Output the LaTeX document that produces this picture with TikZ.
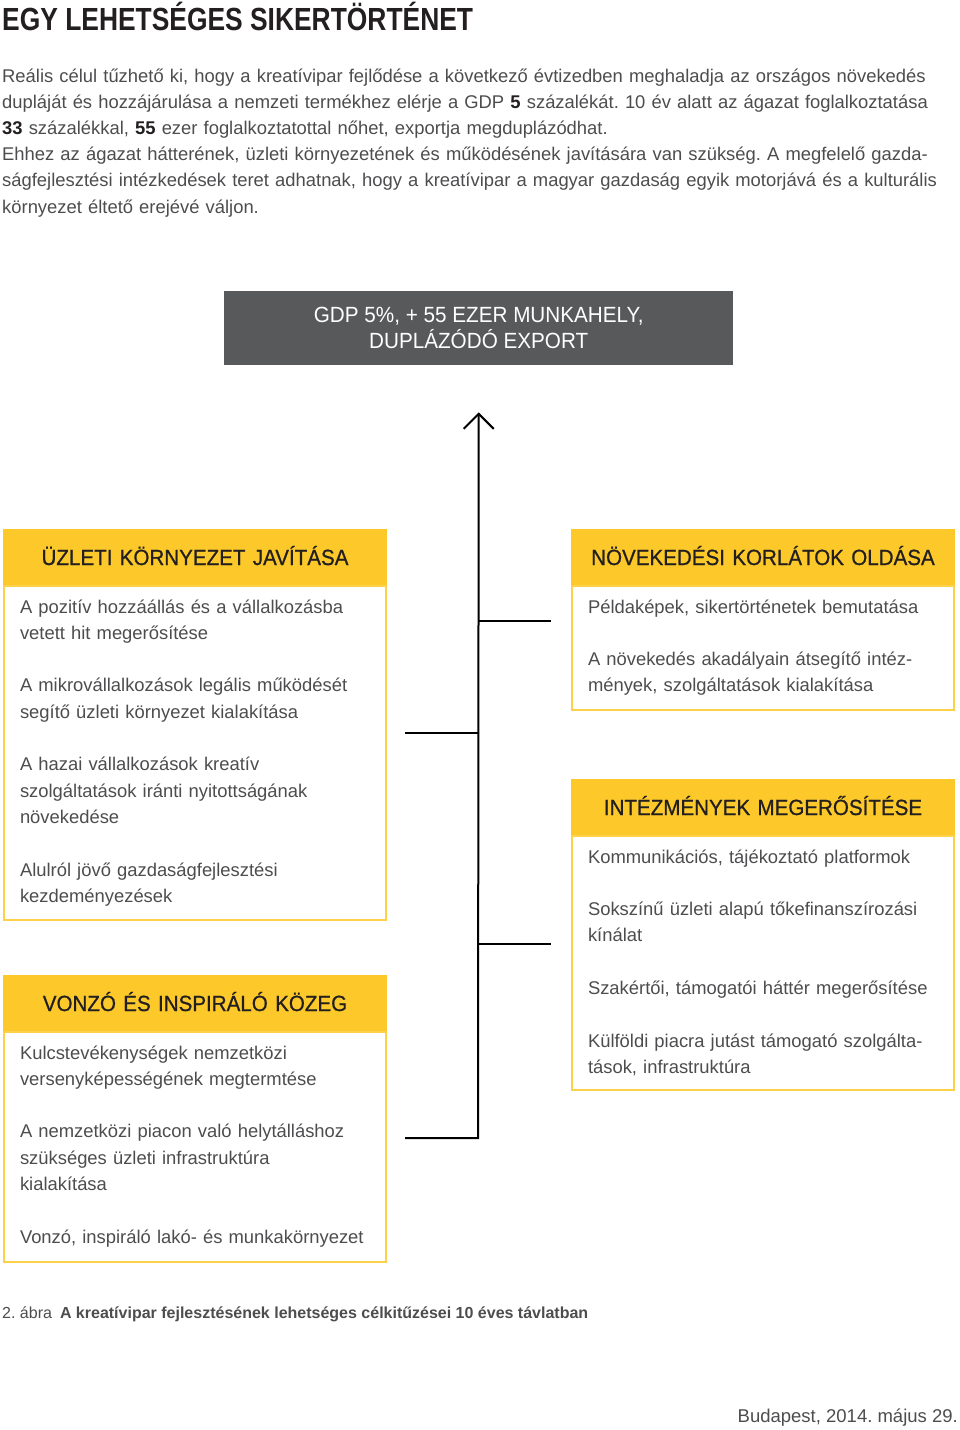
\documentclass[tikz,border=0pt]{standalone}
\usepackage{fontspec}
\setmainfont{Liberation Sans}
\newfontfamily\headfont[FakeStretch=0.935, FakeBold=0.8]{Liberation Sans}
\newfontfamily\goalfont[FakeStretch=0.94]{Liberation Sans}
\newfontfamily\titlefont[FakeStretch=0.825]{Liberation Sans}
\usepackage{xcolor}
\usetikzlibrary{arrows.meta, positioning}
\definecolor{sunyellow}{HTML}{FDC92A}
\definecolor{slategrey}{HTML}{58595B}
\definecolor{inkdark}{HTML}{231F20}
\definecolor{bodygrey}{HTML}{4D4D4F}
\frenchspacing

\begin{document}
\begin{tikzpicture}[x=1pt, y=-1pt,
  head/.style={rectangle, fill=sunyellow, draw=sunyellow, line width=2pt,
               minimum height=54pt, inner sep=0pt, text width=382pt, align=center,
               text height=16pt, text depth=0pt,
               text=inkdark, font=\headfont\fontsize{22}{26}\selectfont},
  body/.style={rectangle, fill=white, draw=sunyellow!85, line width=2pt,
               inner xsep=16pt, inner ysep=0pt, text width=350pt, align=left,
               text height=27pt, text=bodygrey, font=\fontsize{18.4}{26.3}\selectfont},
  goalbox/.style={rectangle, fill=slategrey, minimum width=509pt, minimum height=74pt,
                  inner sep=0pt, align=center, text=white,
                  font=\goalfont\fontsize{22}{26}\selectfont},
  arr/.style={-{Straight Barb[length=15pt, width=30pt]}, line width=2pt, black},
  branch/.style={line width=2pt, black}
]
\useasboundingbox[fill=white] (0,0) rectangle (960,1430);

% title and intro
\node[anchor=base west, inner sep=0pt, text=inkdark,
      font=\titlefont\bfseries\fontsize{32}{36}\selectfont] (title) at (2,30)
      {EGY LEHETSÉGES SIKERTÖRTÉNET};
\node[anchor=base west, inner sep=0pt, text width=950pt, align=left, text=bodygrey,
      font=\fontsize{18.4}{26.2}\selectfont] (intro) at (2,82)
      {Reális célul tűzhető ki, hogy a kreatívipar fejlődése a következő évtizedben meghaladja az országos növekedés\\
       dupláját és hozzájárulása a nemzeti termékhez elérje a GDP \textcolor{inkdark}{\bfseries 5} százalékát. 10 év alatt az ágazat foglalkoztatása\\
       \textcolor{inkdark}{\bfseries 33} százalékkal, \textcolor{inkdark}{\bfseries 55} ezer foglalkoztatottal nőhet, exportja megduplázódhat.\\
       Ehhez az ágazat hátterének, üzleti környezetének és működésének javítására van szükség. A megfelelő gazda-\\
       ságfejlesztési intézkedések teret adhatnak, hogy a kreatívipar a magyar gazdaság egyik motorjává és a kulturális\\
       környezet éltető erejévé váljon.};

% goal
\node[goalbox, anchor=north west] (goal) at (224,291)
      {GDP 5\%, + 55 EZER MUNKAHELY,\\DUPLÁZÓDÓ EXPORT};

% left column
\node[head, anchor=north west] (ukjHead) at (3,529) {ÜZLETI KÖRNYEZET JAVÍTÁSA};
\node[body, below=0pt of ukjHead, text depth=307pt] (ukj)
      {A pozitív hozzáállás és a vállalkozásba\\vetett hit megerősítése\\[26.3pt]
       A mikrovállalkozások legális működését\\segítő üzleti környezet kialakítása\\[26.3pt]
       A hazai vállalkozások kreatív\\szolgáltatások iránti nyitottságának\\növekedése\\[26.3pt]
       Alulról jövő gazdaságfejlesztési\\kezdeményezések};

\node[head, anchor=north west] (vikHead) at (3,975) {VONZÓ ÉS INSPIRÁLÓ KÖZEG};
\node[body, below=0pt of vikHead, text depth=203pt] (vik)
      {Kulcstevékenységek nemzetközi\\versenyképességének megtermtése\\[26.3pt]
       A nemzetközi piacon való helytálláshoz\\szükséges üzleti infrastruktúra\\kialakítása\\[26.3pt]
       Vonzó, inspiráló lakó- és munkakörnyezet};

% right column
\node[head, anchor=north west] (nkoHead) at (571,529) {NÖVEKEDÉSI KORLÁTOK OLDÁSA};
\node[body, below=0pt of nkoHead, text depth=97pt] (nko)
      {Példaképek, sikertörténetek bemutatása\\[26.3pt]
       A növekedés akadályain átsegítő intéz-\\mények, szolgáltatások kialakítása};

\node[head, anchor=north west] (intHead) at (571,779) {INTÉZMÉNYEK MEGERŐSÍTÉSE};
\node[body, below=0pt of intHead, text depth=227pt] (int)
      {Kommunikációs, tájékoztató platformok\\[26.3pt]
       Sokszínű üzleti alapú tőkefinanszírozási\\kínálat\\[26.3pt]
       Szakértői, támogatói háttér megerősítése\\[26.3pt]
       Külföldi piacra jutást támogató szolgálta-\\tások, infrastruktúra};

% trunk and branches
\coordinate (tip) at ([yshift=-47pt]goal.south);
\coordinate (root) at (478,1138);
\coordinate (vikEnd) at (405,1138);
\coordinate (ukjJoin) at (478,733);
\coordinate (ukjEnd) at (405,733);
\coordinate (nkoJoin) at (478,621);
\coordinate (nkoEnd) at (551,621);
\coordinate (intJoin) at (478,944);
\coordinate (intEnd) at (551,944);

\draw[arr] (vikEnd) -- (root) -- (tip);
\draw[branch] (ukjEnd) -- (ukjJoin);
\draw[branch] (nkoJoin) -- (nkoEnd);
\draw[branch] (intJoin) -- (intEnd);

% caption and date
\node[anchor=base west, inner sep=0pt, text=bodygrey,
      font=\fontsize{16}{20}\selectfont] (caption) at (2,1318)
      {2. ábra\enspace{\bfseries A kreatívipar fejlesztésének lehetséges célkitűzései 10 éves távlatban}};
\node[anchor=base east, inner sep=0pt, text=bodygrey,
      font=\fontsize{18.5}{22}\selectfont] (date) at (958,1422)
      {Budapest, 2014. május 29.};
\end{tikzpicture}
\end{document}
